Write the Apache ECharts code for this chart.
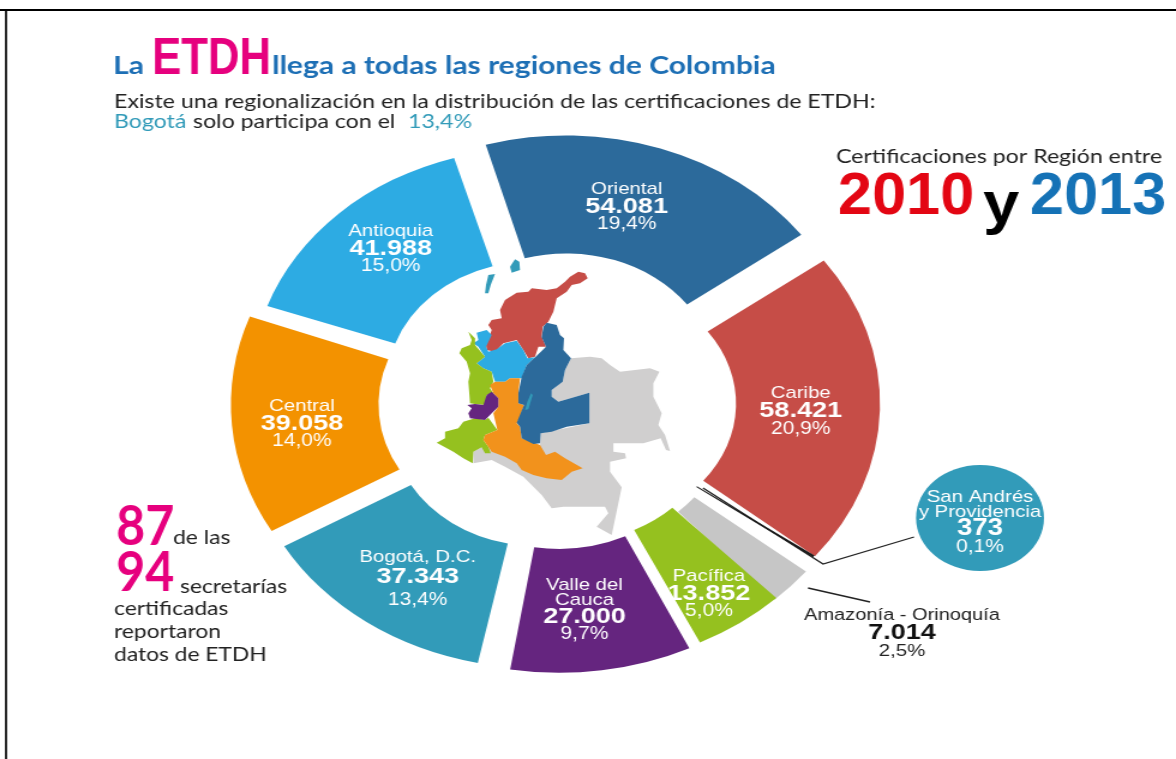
<!DOCTYPE html>
<html><head><meta charset="utf-8">
<script src="https://cdn.jsdelivr.net/npm/echarts@6/dist/echarts.min.js"></script>
<style>html,body{margin:0;padding:0;background:#fff;overflow:hidden}
#chart{width:980px;height:759px;transform:scaleX(1.2);transform-origin:0 0}</style>
</head><body><div id="chart"></div>
<script>
// ---- data ----
const regions = ['Oriental','Caribe','San Andrés y Providencia','Amazonía - Orinoquía','Pacífica','Valle del Cauca','Bogotá, D.C.','Central','Antioquia'];
const values  = [54081,58421,373,7014,13852,27000,37343,39058,41988];
const shares  = ['19,4%','20,9%','0,1%','2,5%','5,0%','9,7%','13,4%','14,0%','15,0%'];
const valueLabels = ['54.081','58.421','373','7.014','13.852','27.000','37.343','39.058','41.988'];
const nameLines = ['Oriental','Caribe','San Andrés\ny Providencia','Amazonía - Orinoquía','Pacífica','Valle del\nCauca','Bogotá, D.C.','Central','Antioquia'];
// ---- styling ----
const colors  = ['#2C6A9B','#C64D47','#1a1a1a','#C6C6C6','#95C11F','#65257F','#329BB9','#F39200','#2DABE3'];
const S = 1.2;               // the whole picture is stretched horizontally
const CX = 556/S, CY = 403;  // centre of the ring
const explode = [26,28,24,24,18,18,26,18,26];
const rIn  = [125,122,120,125,125,128,122,130,123];
const rOut = [243,242,240,244,250,252,244,253,236];
const startCompass = -14;
const nudge = [-2,-2,-5.8,-3,-4.5,-4,-1.5,-1.5,-2.5];
const labelOffset = [[-10,5],[-9,3],[0,0],[0,0],[8,20],[-6,-2],[9,6],[0,3],[6,-3]];
const valueLine = [18,18,18,18,18,18,22,18,18];
const insideLabel = [true,true,false,false,true,true,true,true,true];
const total = values.reduce((a,b)=>a+b,0);

let acc = startCompass;
const series = values.map((v,i)=>{
  const sweep = 360*v/total, from = acc+nudge[i], mid = (from+sweep/2)*Math.PI/180;
  const s = {
    type:'pie', name:regions[i], silent:true, clockwise:true, animation:false,
    startAngle:90-from, avoidLabelOverlap:false, minShowLabelAngle:0,
    center:[CX+explode[i]*Math.sin(mid), CY-explode[i]*Math.cos(mid)],
    radius:[rIn[i],rOut[i]],
    labelLine:{show:false},
    emphasis:{disabled:true},
    data:[
      {value:v,name:regions[i],itemStyle:{color:colors[i]},
       label:{show:insideLabel[i],position:'inside',offset:labelOffset[i],
        formatter:nameLines[i].split('\n').map(t=>'{n|'+t+'}').join('\n')+'\n{v|'+valueLabels[i]+'}\n{p|'+shares[i]+'}',
        rich:{
          n:{fontFamily:'Liberation Sans',fontSize:17,lineHeight:i===5?15:17,color:'#fff',align:'center'},
          v:{fontFamily:'Liberation Sans',fontWeight:'bold',fontSize:22.5,lineHeight:valueLine[i],color:'#fff',align:'center'},
          p:{fontFamily:'Liberation Sans',fontSize:17.5,lineHeight:i===6?24:17,color:'#fff',align:'center'}
        }}},
      {value:total-v,name:'resto',itemStyle:{color:'transparent'},label:{show:false},labelLine:{show:false}}
    ]
  };
  acc += sweep;
  return s;
});

const mapShapes = [
 ['#D0CFCF',[[453,325],[510,320],[545,325],[570,345],[600,365],[690,355],[718,365],[700,400],[700,440],[725,490],[715,525],[735,555],[750,603],[738,600],[722,565],[670,580],[580,580],[580,605],[615,610],[618,625],[570,635],[570,665],[605,712],[595,760],[575,855],[530,830],[565,790],[555,770],[495,770],[430,770],[395,775],[365,735],[310,680],[255,650],[215,630],[160,640],[160,605],[185,592],[205,590],[300,600],[360,585],[362,550],[508,520],[508,428],[415,455],[395,440],[395,420],[428,395],[435,360]]],
 ['#C64D47',[[475,65],[495,70],[503,85],[480,100],[455,105],[440,125],[410,145],[400,185],[385,215],[368,230],[365,260],[378,290],[355,290],[345,320],[325,325],[310,300],[290,270],[250,280],[225,305],[200,300],[198,285],[215,240],[205,225],[215,210],[245,205],[240,180],[255,150],[290,128],[325,125],[335,115],[380,120],[410,115],[435,95],[450,80]]],
 ['#2DABE3',[[200,240],[215,255],[198,290],[205,305],[230,298],[255,280],[290,272],[310,300],[322,325],[345,322],[320,345],[305,385],[270,385],[255,395],[225,395],[215,365],[190,355],[170,340],[195,320],[175,290],[160,280],[175,270],[170,248]]],
 ['#95C11F',[[145,245],[165,265],[165,285],[195,320],[170,340],[190,355],[215,365],[220,395],[210,415],[220,430],[200,435],[195,465],[165,462],[150,460],[145,395],[150,370],[140,335],[118,310],[125,295],[150,285],[155,270]]],
 ['#95C11F',[[165,505],[195,510],[205,503],[232,540],[195,555],[190,570],[205,590],[212,610],[195,610],[185,592],[160,605],[158,640],[130,625],[100,605],[50,578],[75,565],[75,545],[115,535],[130,515]]],
 ['#F2921C',[[210,405],[225,395],[255,395],[270,385],[300,385],[295,430],[295,460],[312,465],[300,500],[290,520],[300,530],[305,565],[360,585],[378,615],[405,605],[435,625],[488,655],[455,665],[425,690],[380,685],[340,675],[305,660],[290,640],[255,620],[215,605],[205,590],[190,570],[195,555],[232,540],[220,490],[235,470],[235,445],[220,430]]],
 ['#2C6A9B',[[380,218],[410,225],[420,255],[432,265],[430,300],[453,325],[435,360],[428,395],[395,420],[395,440],[415,455],[508,428],[508,520],[440,530],[395,545],[362,550],[360,580],[340,582],[305,565],[300,530],[290,518],[312,465],[295,460],[295,430],[305,380],[320,345],[347,320],[378,290],[365,262],[370,230]]],
 ['#65257F',[[215,425],[235,445],[235,470],[215,490],[195,510],[150,505],[145,490],[155,475],[142,465],[165,462],[190,465],[200,435]]],
 ['#329BB9',[[333,430],[338,435],[325,478],[315,480],[322,455]]],
 ['#329BB9',[[205,75],[225,72],[212,105],[205,130],[195,130],[198,105]]],
 ['#329BB9',[[285,28],[298,35],[300,60],[275,68],[270,50]]]
];
const mapEls = mapShapes.map(([c,p])=>({type:'polygon',shape:{points:p.map(q=>[(420+q[0]/3)/S,250+q[1]/3])},style:{fill:c}}));

const TXT=(text,x,y,font,fill,sx,align)=>({type:'text',x:x/S,y:y,scaleX:sx||1,style:{text,font,fill,textVerticalAlign:'middle',textAlign:align||'left'}});
const LINE=(pts,w)=>({type:'polyline',shape:{points:pts.map(p=>[p[0]/S,p[1]])},style:{stroke:'#222',lineWidth:w||1.3,fill:null}});
const blue='#1D6FB5',pink='#E6007E',teal='#329BB9',ink='#222';
const LS='"Liberation Sans"';

const graphics=[
 {type:'rect',shape:{x:0,y:9,width:980,height:2},style:{fill:'#000'}},
 {type:'rect',shape:{x:5/S,y:9,width:2/S,height:750},style:{fill:'#000'}},
 ...mapEls,
 TXT('La',113,66,'bold 25px Lato',blue),
 TXT('ETDH',152,60,'bold 52px '+LS,pink,0.7),
 TXT('llega a todas las regiones de Colombia',272,66,'bold 25px Lato',blue),
 TXT('Existe una regionalización en la distribución de las certificaciones de ETDH:',114,102,'19.3px Lato',ink),
 TXT('Bogotá',114,122,'19.3px Lato',teal),
 TXT('solo participa con el',193,122,'19.3px Lato',ink),
 TXT('13,4%',408,122,'19.3px Lato',teal),
 TXT('Certificaciones por Región entre',836,157,'19.3px Lato',ink),
 TXT('2010',838,197,'bold 60px '+LS,"#E30613",0.85),
 TXT('y',983,206,'bold 60px '+LS,"#000",0.9),
 TXT('2013',1030,197,'bold 60px '+LS,"#1572B6",0.85),
 TXT('87',116,527,'bold 55px Lato',pink,0.76),
 TXT('de las',173,538,'19px Lato',ink),
 TXT('94',116,573,'bold 55px Lato',pink,0.76),
 TXT('secretarías',180,587,'19px Lato',ink),
 TXT('certificadas',114,609,'19px Lato',ink),
 TXT('reportaron',114,632,'19px Lato',ink),
 TXT('datos de ETDH',114,655,'19px Lato',ink),
 {type:'ellipse',shape:{cx:980/S,cy:518,rx:64/S,ry:53},style:{fill:teal}},
 LINE([[703,488],[823,564],[914,537]]),
 LINE([[808,588],[870,602]]),
 TXT(nameLines[2].split('\n')[0],980,497,'17px '+LS,'#fff',1,'center'),
 TXT(nameLines[2].split('\n')[1],980,512,'17px '+LS,'#fff',1,'center'),
 TXT(valueLabels[2],980,529,'bold 23px '+LS,'#fff',1,'center'),
 TXT(shares[2],980,547,'17.5px '+LS,'#fff',1,'center'),
 TXT(nameLines[3],902,615,'16.7px '+LS,'#222',1,'center'),
 TXT(valueLabels[3],902,633,'bold 22.5px '+LS,'#111',1,'center'),
 TXT(shares[3],902,651,'17px '+LS,'#222',1,'center')
];

const chart=echarts.init(document.getElementById('chart'),null,{renderer:'canvas'});
chart.setOption({animation:false,backgroundColor:'#fff',graphic:{elements:graphics},series});
</script></body></html>
